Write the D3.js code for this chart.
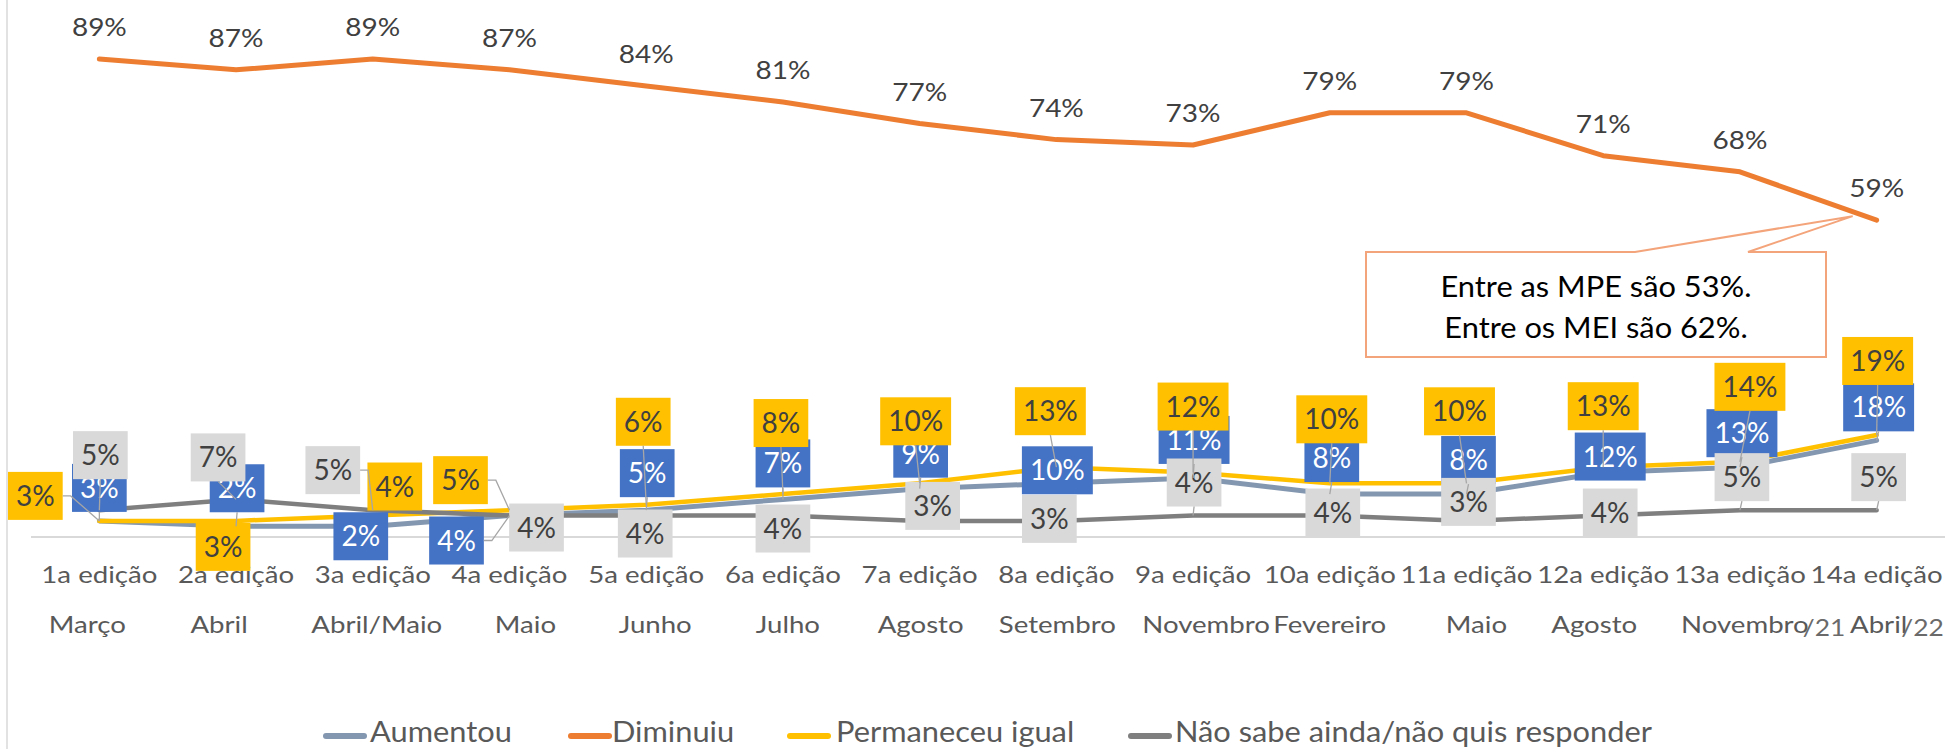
<!DOCTYPE html>
<html><head><meta charset="utf-8">
<script src="https://cdn.jsdelivr.net/npm/d3@7"></script>
<style>html,body{margin:0;padding:0;background:#fff;overflow:hidden}svg{display:block;font-family:Lato,'Open Sans',sans-serif}</style>
</head><body><svg id="c" width="1948" height="749"></svg>
<script>
// ---------- data ----------
const editions = ["1a edição","2a edição","3a edição","4a edição","5a edição","6a edição","7a edição","8a edição","9a edição","10a edição","11a edição","12a edição","13a edição","14a edição"];
const months = ["Março","Abril","Abril/Maio","Maio","Junho","Julho","Agosto","Setembro","Novembro","Fevereiro","Maio","Agosto","Novembro","Abril"];
const monthSuffix = ["","","","","","","","","","","","","/21","/22"];
const aumentou   = [3,2,2,4,5,7,9,10,11,8,8,12,13,18];
const diminuiu   = [89,87,89,87,84,81,77,74,73,79,79,71,68,59];
const permaneceu = [3,3,4,5,6,8,10,13,12,10,10,13,14,19];
const naoSabe    = [5,7,5,4,4,4,3,3,4,4,3,4,5,5];
const seriesNames = ["Aumentou","Diminuiu","Permaneceu igual","Não sabe ainda/não quis responder"];
const calloutLines = ["Entre as MPE são 53%.","Entre os MEI são 62%."];

// ---------- layout (label placement offsets, px) ----------
const offAum  = [[0,-33],[1,-38],[-12,10],[-53,25],[1,-37],[0,-36],[1,-35],[1,-13],[1,-38],[2,-36],[2,-34],[7,-16],[2,-34],[2,-33]];
const offPerm = [[-64,-25],[-13,26],[22,-29],[-49,-30],[-3,-83],[-2,-71],[-4,-62],[-6,-56],[0,-66],[2,-64],[-7,-72],[0,-61],[10,-75],[1,-74]];
const offNao  = [[1,-55],[-18,-42],[-40,-40],[27,12],[-1,18],[0,13],[13,-15],[-7,-2],[1,-33],[3,-3],[2,-19],[7,-3],[2,-33],[2,-33]];
const monthDx = [-12,-17,4,16,9,5,1,1,13,0,10,-9,5,2];

const svg = d3.select("#c");
const x = d3.scalePoint().domain(d3.range(editions.length)).range([31,1945]).padding(0.5);
const y = d3.scaleLinear().domain([0,100]).range([537,0]);

function stretch(sel,k){
  sel.each(function(){
    const w=this.getComputedTextLength();
    d3.select(this).attr("textLength",w*k).attr("lengthAdjust","spacingAndGlyphs");
  });
}

// frame line at left
svg.append("line").attr("x1",7).attr("x2",7).attr("y1",0).attr("y2",749)
  .attr("stroke","#D9D9D9").attr("stroke-width",1.5);

// baseline gridline
svg.append("line").attr("x1",x.range()[0]).attr("x2",x.range()[1]).attr("y1",y(0)).attr("y2",y(0))
  .attr("stroke","#D9D9D9").attr("stroke-width",2);

// category labels
const cat = svg.append("g").attr("fill","#595959").attr("font-size",24);
cat.selectAll("text.l1").data(editions).join("text").attr("class","l1")
  .attr("x",(d,i)=>x(i)).attr("y",583).attr("text-anchor","middle").text(d=>d).call(stretch,1.15);
cat.selectAll("text.l2").data(months).join("text").attr("class","l2")
  .attr("x",(d,i)=>x(i)+monthDx[i]).attr("y",633).attr("text-anchor","middle").text(d=>d).call(stretch,1.15);
cat.selectAll("text.l2").each(function(d,i){
  if(!monthSuffix[i]) return;
  const bb=this.getBBox();
  cat.append("text").attr("x",bb.x+bb.width-6).attr("y",636).attr("font-size",24).attr("fill","#6a6a6a")
    .text(monthSuffix[i]).call(stretch,1.1);
});

// lines
const series = [
  {vals:aumentou, color:"#8497B0", w:5},
  {vals:diminuiu, color:"#ED7D31", w:5},
  {vals:permaneceu, color:"#FFC000", w:4.5},
  {vals:naoSabe, color:"#7F7F7F", w:4.5}
];
const line = d3.line().x((d,i)=>x(i)).y(d=>y(d));
series.forEach(s=>{
  svg.append("path").datum(s.vals).attr("d",line).attr("fill","none")
    .attr("stroke",s.color).attr("stroke-width",s.w).attr("stroke-linejoin","round").attr("stroke-linecap","round");
});

// boxed labels
const leaders=[];
function boxLabels(vals, offs, fill, txt){
  const g=svg.append("g");
  vals.forEach((v,i)=>{
    const px=x(i), py=y(v);
    const cx=px+offs[i][0], cy=py+offs[i][1];
    const gg=g.append("g");
    const r=gg.append("rect").attr("fill",fill);
    const t=gg.append("text").attr("x",cx).attr("y",cy+10).attr("text-anchor","middle")
      .attr("font-size",28).attr("fill",txt).text(v+"%");
    const tw=t.node().getComputedTextLength();
    const w=tw+16, h=48;
    r.attr("x",cx-w/2).attr("y",cy-h/2).attr("width",w).attr("height",h);
    const dxo=Math.max(0,Math.abs(px-cx)-w/2), dyo=Math.max(0,Math.abs(py-cy)-h/2);
    if(Math.hypot(dxo,dyo)>7){
      let pts;
      if(dxo>0){
        const sgn = px>cx?1:-1;
        const sx=cx+sgn*w/2;
        pts=[[sx,cy],[sx+sgn*8,cy],[px,py]];
      } else {
        const sy = py>cy? cy+h/2 : cy-h/2;
        pts=[[cx,sy],[px,py]];
      }
      leaders.push(pts);
    }
  });
}
boxLabels(aumentou, offAum, "#4472C4", "#FFFFFF");
boxLabels(permaneceu, offPerm, "#FFC000", "#404040");
boxLabels(naoSabe, offNao, "#D9D9D9", "#404040");
svg.append("g").selectAll("path").data(leaders).join("path")
  .attr("d",d=>d3.line()(d)).attr("fill","none").attr("stroke","#A6A6A6").attr("stroke-width",1.3);

// diminuiu labels
svg.append("g").selectAll("text").data(diminuiu).join("text")
  .attr("x",(d,i)=>x(i)).attr("y",d=>y(d)-23).attr("text-anchor","middle")
  .attr("font-size",25).attr("fill","#404040").text(d=>d+"%").call(stretch,1.12);

// callout
const last=diminuiu.length-1;
const tipX=x(last)-24, tipY=y(diminuiu[last])-4;
const bx0=1366,bx1=1826,by0=252,by1=357;
svg.append("path")
  .attr("d",`M1635,${by0}L${bx0},${by0}L${bx0},${by1}L${bx1},${by1}L${bx1},${by0}L1748,${by0}L${tipX},${tipY}Z`)
  .attr("fill","#fff").attr("stroke","#F4A47A").attr("stroke-width",2);
svg.append("g").selectAll("text").data(calloutLines).join("text")
  .attr("x",(bx0+bx1)/2).attr("y",(d,i)=>297+i*41).attr("text-anchor","middle")
  .attr("font-size",28).attr("fill","#000").text(d=>d).call(stretch,1.1);

// legend
const legend=[
  {name:seriesNames[0], color:"#8497B0", x0:323, tx:370},
  {name:seriesNames[1], color:"#ED7D31", x0:568, tx:612},
  {name:seriesNames[2], color:"#FFC000", x0:787, tx:836},
  {name:seriesNames[3], color:"#7F7F7F", x0:1128, tx:1175}
];
const lg=svg.append("g");
legend.forEach(l=>{
  lg.append("line").attr("x1",l.x0+3).attr("x2",l.x0+41).attr("y1",736).attr("y2",736)
    .attr("stroke",l.color).attr("stroke-width",6).attr("stroke-linecap","round");
  lg.append("text").attr("x",l.tx).attr("y",742).attr("font-size",28).attr("fill","#595959").text(l.name).call(stretch,1.1);
});
</script></body></html>
